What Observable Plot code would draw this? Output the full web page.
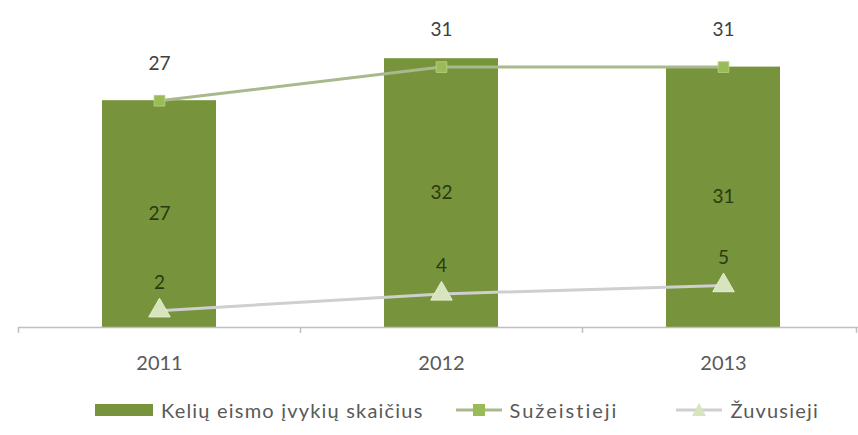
<!DOCTYPE html>
<html>
<head>
<meta charset="utf-8">
<script src="https://cdn.jsdelivr.net/npm/d3@7"></script>
<script src="https://cdn.jsdelivr.net/npm/@observablehq/plot@0.6"></script>
<style>
  html, body { margin: 0; padding: 0; background: #fff; }
  #chart { width: 858px; height: 435px; font-family: Lato, "Open Sans", sans-serif; }
  .legend { display: flex; align-items: center; height: 50px; padding-left: 95px; font-size: 20px; letter-spacing: 1.2px; color: #595959; }
  .legend .item { display: flex; align-items: center; margin-right: 32px; }
  .legend .item:nth-child(2) { margin-right: 58px; }
  .legend .item:nth-child(2) span { letter-spacing: 2px; }
  .legend svg { margin-right: 8px; }
</style>
</head>
<body>
<div id="chart"></div>
<script>
const years = ["2011", "2012", "2013"];
const accidents = [27, 32, 31];      // Kelių eismo įvykių skaičius
const injured = [27, 31, 31];        // Sužeistieji
const killed = [2, 4, 5];            // Žuvusieji
const seriesNames = ["Kelių eismo įvykių skaičius", "Sužeistieji", "Žuvusieji"];

const barColor = "#77933c";
const injLine = "#a9b98d";
const injMark = "#9bbb59";
const killLine = "#cfcfcf";
const killMark = "#d7e4bd";

const rows = years.map((y, i) => ({year: y, acc: accidents[i], inj: injured[i], kill: killed[i]}));

const W = 858, H = 385;
const step = (W - 18 + 6) / years.length;

const plot = Plot.plot({
  width: W,
  height: H,
  marginLeft: 18,
  marginRight: -6,
  marginTop: 33,
  marginBottom: 58,
  style: {fontFamily: "Lato, 'Open Sans', sans-serif", overflow: "visible"},
  x: {domain: years, padding: 0, axis: null},
  y: {domain: [0, 35], axis: null},
  marks: [
    Plot.barY(rows, {x: "year", y: "acc", fill: barColor, insetLeft: 84, insetRight: 84}),
    Plot.ruleY([0], {stroke: "#bfbfbf", strokeWidth: 1.5}),
    Plot.ruleX(rows, {x: "year", y1: 0, y2: -0.7, dx: -step / 2, stroke: "#bfbfbf", strokeWidth: 1.5}),
    Plot.ruleX(rows.slice(-1), {x: "year", y1: 0, y2: -0.7, dx: step / 2 - 8, stroke: "#bfbfbf", strokeWidth: 1.5}),
    Plot.line(rows, {x: "year", y: "inj", stroke: injLine, strokeWidth: 3}),
    Plot.dot(rows, {x: "year", y: "inj", symbol: "square", r: 6, fill: injMark, stroke: "#b5cc7a", strokeWidth: 1}),
    Plot.line(rows, {x: "year", y: "kill", stroke: killLine, strokeWidth: 3}),
    Plot.dot(rows, {x: "year", y: "kill", symbol: "triangle", r: 8, fill: killMark, stroke: "#e4eed0", strokeWidth: 1}),
    Plot.text(rows, {x: "year", y: "inj", text: "inj", dy: -37, fill: "#404040", fontSize: 19}),
    Plot.text(rows, {x: "year", y: (d) => d.acc / 2, text: "acc", fill: "#2a3a10", fontSize: 19}),
    Plot.text(rows, {x: "year", y: "kill", text: "kill", dy: -28, fill: "#2a3a10", fontSize: 19}),
    Plot.text(rows, {x: "year", y: 0, text: "year", dy: 36, fill: "#595959", fontSize: 20})
  ]
});

const chart = document.getElementById("chart");
chart.appendChild(plot);

const legend = document.createElement("div");
legend.className = "legend";
const items = [
  `<svg width="58" height="14"><rect x="0" y="1" width="58" height="12" fill="${barColor}"/></svg>`,
  `<svg width="46" height="14"><line x1="0" y1="7" x2="46" y2="7" stroke="${injLine}" stroke-width="3"/><rect x="17" y="1" width="12" height="12" fill="${injMark}"/></svg>`,
  `<svg width="46" height="16"><line x1="0" y1="8" x2="46" y2="8" stroke="${killLine}" stroke-width="3"/><path d="M23,1 L30,14 L16,14 Z" fill="${killMark}"/></svg>`
];
seriesNames.forEach((name, i) => {
  const it = document.createElement("div");
  it.className = "item";
  it.innerHTML = items[i] + `<span>${name}</span>`;
  legend.appendChild(it);
});
chart.appendChild(legend);
</script>
</body>
</html>
